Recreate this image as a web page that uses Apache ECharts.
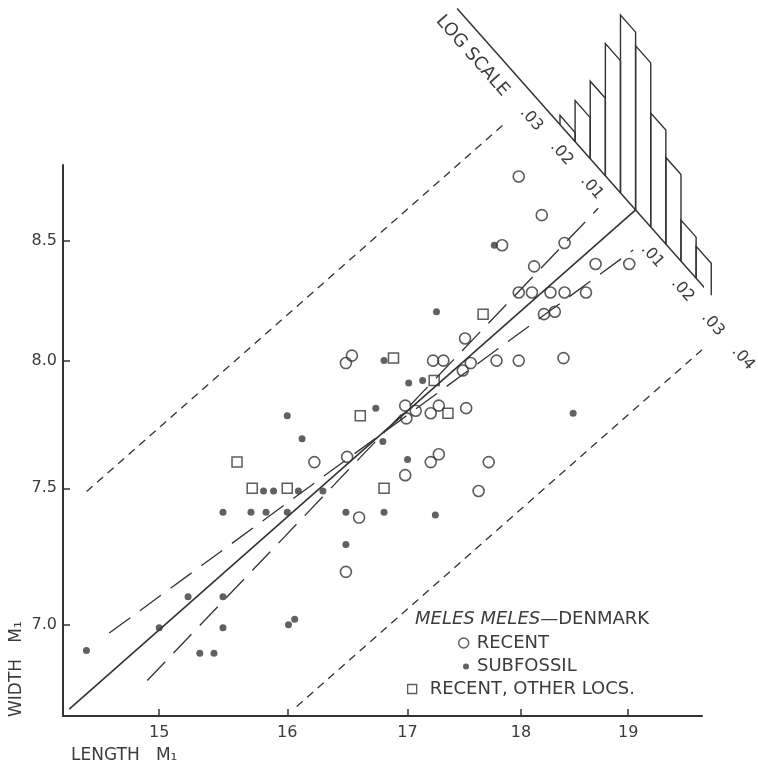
<!DOCTYPE html>
<html>
<head>
<meta charset="utf-8">
<title>Meles meles - Denmark, M1</title>
<script src="https://cdn.jsdelivr.net/npm/echarts@6/dist/echarts.min.js"></script>
<style>
  html, body { margin: 0; padding: 0; background: #fff; }
  #chart { width: 758px; height: 768px; }
</style>
</head>
<body>
<div id="chart"></div>
<script>
'use strict';

const FONT = 'DejaVu Sans';
const INK = '#333';
const TEXT = '#3c3c3c';

// tick values on the two log axes
const xTicks = [15, 16, 17, 18, 19];
const yTicks = [7.0, 7.5, 8.0, 8.5];

// [length M1, width M1]
const recent = [
  [17.98, 8.78], [18.19, 8.61], [17.83, 8.48], [18.40, 8.49], [18.12, 8.39],
  [18.69, 8.40], [19.01, 8.40], [17.98, 8.28], [18.10, 8.28], [18.27, 8.28],
  [18.40, 8.28], [18.60, 8.28], [18.21, 8.19], [18.31, 8.20], [17.50, 8.09],
  [16.48, 7.99], [16.53, 8.02], [17.22, 8.00], [17.31, 8.00], [17.48, 7.96],
  [17.55, 7.99], [17.78, 8.00], [17.98, 8.00], [18.39, 8.01], [16.98, 7.82],
  [17.07, 7.80], [16.99, 7.77], [17.20, 7.79], [17.27, 7.82], [17.51, 7.81],
  [16.22, 7.60], [16.49, 7.62], [17.20, 7.60], [17.27, 7.63], [17.71, 7.60],
  [16.98, 7.55], [17.62, 7.49], [16.59, 7.39], [16.48, 7.19]
];
const subfossil = [
  [17.76, 8.48], [17.25, 8.20], [16.80, 8.00], [17.01, 7.91], [17.13, 7.92],
  [16.00, 7.78], [16.73, 7.81], [16.12, 7.69], [16.79, 7.68], [17.00, 7.61],
  [15.81, 7.49], [15.89, 7.49], [16.09, 7.49], [16.29, 7.49], [15.49, 7.41],
  [15.71, 7.41], [15.83, 7.41], [16.00, 7.41], [16.48, 7.41], [16.80, 7.41],
  [17.24, 7.40], [16.48, 7.29], [18.48, 7.79], [15.22, 7.10], [15.49, 7.10],
  [15.00, 6.99], [15.49, 6.99], [16.01, 7.00], [16.06, 7.02], [14.46, 6.91],
  [15.31, 6.90], [15.42, 6.90]
];
const otherLocs = [
  [17.66, 8.19], [16.88, 8.01], [17.23, 7.92], [16.60, 7.78], [17.35, 7.79],
  [15.60, 7.60], [15.72, 7.50], [16.00, 7.50], [16.80, 7.50]
];

// fitted line, slope limits through the mean, and the outer limits
const regLine = [[14.335, 6.708], [19.071, 8.633]];
const slopeLimitA = [[14.910, 6.806], [18.715, 8.640]];
const slopeLimitB = [[14.627, 6.971], [19.048, 8.460]];
const limitUpper = [[14.461, 7.488], [17.855, 9.019]];
const limitLower = [[16.076, 6.717], [19.766, 8.060]];

// deviations from the line, log10 units, measured across it from the top end
const binEdges = [-0.025, -0.02, -0.015, -0.01, -0.005, 0, 0.005, 0.01, 0.015, 0.02, 0.025];
const binCounts = [2, 9, 17, 29, 39, 36, 25, 19, 9, 7];
const logTicks = [-0.03, -0.02, -0.01, 0.01, 0.02, 0.03, 0.04];
const logTickLabels = ['.03', '.02', '.01', '.01', '.02', '.03', '.04'];
const logAxisRange = [-0.059, 0.041];
const logAxisName = 'LOG SCALE';
const logAxisNameAt = -0.049;
const countStep = 0.001; // log10 of width per count, bar height

const apex = regLine[1];
const slope = Math.log(regLine[1][1] / regLine[0][1]) / Math.log(regLine[1][0] / regLine[0][0]);
const norm = Math.sqrt(1 + slope * slope);

function onLogAxis(d) {
  return [apex[0] * Math.pow(10, d * slope / norm), apex[1] * Math.pow(10, -d / norm)];
}

function lineDir(api) {
  const p0 = api.coord(regLine[0]);
  const p1 = api.coord(regLine[1]);
  const len = Math.hypot(p0[0] - p1[0], p0[1] - p1[1]);
  return [(p0[0] - p1[0]) / len, (p0[1] - p1[1]) / len];
}

const histData = binCounts.map((c, i) => {
  const a = onLogAxis(binEdges[i]);
  const b = onLogAxis(binEdges[i + 1]);
  return [a[0], a[1], b[0], b[1], c];
});

const labelTexts = logTickLabels.concat([logAxisName]);
const labelData = logTicks.concat([logAxisNameAt]).map((d, i) => {
  const p = onLogAxis(d);
  return [p[0], p[1], i];
});

function renderBar(params, api) {
  const lift = Math.pow(10, api.value(4) * countStep);
  const a = [api.value(0), api.value(1)];
  const b = [api.value(2), api.value(3)];
  const pts = [a, [a[0], a[1] * lift], [b[0], b[1] * lift], b].map(p => api.coord(p));
  return {
    type: 'polyline',
    shape: { points: pts },
    style: { fill: 'none', stroke: INK, lineWidth: 1.4 }
  };
}

function renderLabel(params, api) {
  const u = lineDir(api);
  const p = api.coord([api.value(0), api.value(1)]);
  const idx = api.value(2);
  const isName = idx === labelTexts.length - 1;
  const gap = isName ? 20 : 18;
  return {
    type: 'text',
    x: p[0] + u[0] * gap,
    y: p[1] + u[1] * gap,
    rotation: -Math.atan2(-u[0], u[1]),
    style: {
      text: labelTexts[idx],
      fill: TEXT,
      font: (isName ? '18px ' : '16px ') + FONT,
      align: 'center',
      verticalAlign: 'middle'
    }
  };
}

function lineSeries(data, type, width) {
  return {
    type: 'line',
    data: data,
    symbol: 'none',
    clip: false,
    silent: true,
    z: 1,
    lineStyle: { color: INK, width: width, type: type }
  };
}

const legendText = { fontFamily: FONT, fontSize: 18, color: TEXT };

const chart = echarts.init(document.getElementById('chart'));
const option = {
  animation: false,
  backgroundColor: '#fff',
  title: {
    text: '{it|MELES MELES}—DENMARK',
    left: 415,
    top: 610,
    padding: 0,
    textStyle: {
      fontFamily: FONT, fontSize: 18, fontWeight: 'normal', color: TEXT,
      rich: { it: { fontFamily: FONT, fontSize: 18, fontStyle: 'italic', color: TEXT } }
    }
  },
  legend: [
    {
      data: [{ name: 'RECENT', icon: 'circle', itemStyle: { color: '#fff', borderColor: INK, borderWidth: 1.4 } }],
      left: 458, top: 634, padding: 0,
      itemWidth: 10, itemHeight: 10, selectedMode: false,
      textStyle: Object.assign({ padding: [0, 0, 0, 3] }, legendText)
    },
    {
      data: [{ name: 'SUBFOSSIL', icon: 'circle', itemStyle: { color: '#3a3a3a', borderWidth: 0 } }],
      left: 463, top: 657.5, padding: 0,
      itemWidth: 6, itemHeight: 6, selectedMode: false,
      textStyle: Object.assign({ padding: [0, 0, 0, 3] }, legendText)
    },
    {
      data: [{ name: 'RECENT, OTHER LOCS.', icon: 'rect', itemStyle: { color: '#fff', borderColor: INK, borderWidth: 1.3 } }],
      left: 407, top: 680, padding: 0,
      itemWidth: 9, itemHeight: 9, selectedMode: false,
      textStyle: Object.assign({ padding: [0, 0, 0, 8] }, legendText)
    }
  ],
  grid: { left: 63, right: 56, top: 165, bottom: 52, outerBoundsMode: 'none' },
  xAxis: {
    type: 'log',
    logBase: 10,
    min: 14.29,
    max: 19.72,
    axisLine: { onZero: false, lineStyle: { color: INK, width: 2 } },
    axisTick: { show: true, inside: true, length: 7, customValues: xTicks, lineStyle: { color: INK, width: 1.5 } },
    axisLabel: {
      customValues: xTicks, margin: 9, color: TEXT, fontSize: 16, fontFamily: FONT,
      formatter: v => String(Math.round(v))
    },
    splitLine: { show: false },
    minorTick: { show: false }
  },
  yAxis: {
    type: 'log',
    logBase: 10,
    min: 6.685,
    max: 8.831,
    axisLine: { onZero: false, lineStyle: { color: INK, width: 2 } },
    axisTick: { show: true, inside: true, length: 7, customValues: yTicks, lineStyle: { color: INK, width: 1.5 } },
    axisLabel: {
      customValues: yTicks, margin: 6, color: TEXT, fontSize: 16, fontFamily: FONT,
      formatter: v => v.toFixed(1)
    },
    splitLine: { show: false },
    minorTick: { show: false }
  },
  graphic: [
    {
      type: 'text', x: 71, y: 756,
      style: {
        text: 'LENGTH   M₁', font: '17px ' + FONT, fill: TEXT,
        align: 'left', verticalAlign: 'middle', textAlign: 'left', textVerticalAlign: 'middle'
      }
    },
    {
      type: 'text', x: 17, y: 717, rotation: Math.PI / 2,
      style: {
        text: 'WIDTH   M₁', font: '17px ' + FONT, fill: TEXT,
        align: 'left', verticalAlign: 'middle', textAlign: 'left', textVerticalAlign: 'middle'
      }
    }
  ],
  series: [
    lineSeries(regLine, 'solid', 1.6),
    lineSeries(slopeLimitA, [26, 12], 1.3),
    lineSeries(slopeLimitB, [26, 12], 1.3),
    lineSeries(limitUpper, [8, 6], 1.3),
    lineSeries(limitLower, [8, 6], 1.3),
    lineSeries([onLogAxis(logAxisRange[0]), onLogAxis(logAxisRange[1])], 'solid', 1.5),
    {
      type: 'custom',
      coordinateSystem: 'cartesian2d',
      encode: { x: 0, y: 1 },
      clip: false,
      silent: true,
      renderItem: renderBar,
      data: histData
    },
    {
      type: 'custom',
      coordinateSystem: 'cartesian2d',
      encode: { x: 0, y: 1 },
      clip: false,
      silent: true,
      renderItem: renderLabel,
      data: labelData
    },
    {
      name: 'RECENT',
      type: 'scatter',
      data: recent,
      symbol: 'circle',
      symbolSize: 11,
      z: 3,
      itemStyle: { color: 'rgba(255,255,255,0)', borderColor: INK, borderWidth: 1.6 }
    },
    {
      name: 'SUBFOSSIL',
      type: 'scatter',
      data: subfossil,
      symbol: 'circle',
      symbolSize: 7,
      z: 3,
      itemStyle: { color: '#3a3a3a' }
    },
    {
      name: 'RECENT, OTHER LOCS.',
      type: 'scatter',
      data: otherLocs,
      symbol: 'rect',
      symbolSize: 10,
      z: 3,
      itemStyle: { color: 'rgba(255,255,255,0)', borderColor: INK, borderWidth: 1.5 }
    }
  ]
};
chart.setOption(option);
</script>
</body>
</html>
